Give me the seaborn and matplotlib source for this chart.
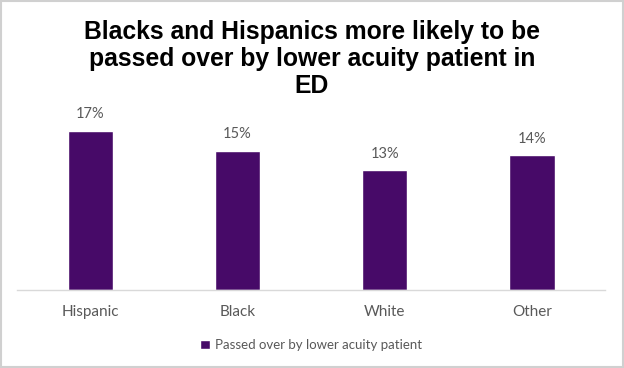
import pandas as pd
import matplotlib.pyplot as plt
import seaborn as sns

# Data
groups = ["Hispanic", "Black", "White", "Other"]
values = [0.170, 0.149, 0.128, 0.144]
series_name = "Passed over by lower acuity patient"
title = "Blacks and Hispanics more likely to be\npassed over by lower acuity patient in\nED"

bar_color = "#470A68"
text_gray = "#595959"

df = pd.DataFrame({"Group": groups, "Value": values, "Series": series_name})

sns.set_theme(style="white")
plt.rcParams["font.family"] = ["Lato", "DejaVu Sans"]

fig = plt.figure(figsize=(6.24, 3.68), dpi=100)
ax = fig.add_axes([0.0272, 0.212, 0.9428, 0.508])

sns.barplot(data=df, x="Group", y="Value", hue="Series", palette=[bar_color],
            width=0.31, ax=ax, saturation=1)

ax.set_ylim(0, 0.2)
ax.set_xlim(-0.5, len(groups) - 0.5)

# value labels
for p, v in zip(ax.patches, values):
    ax.annotate(f"{v:.0%}", (p.get_x() + p.get_width() / 2, p.get_height()),
                xytext=(0, 7), textcoords="offset points", ha="center", va="bottom",
                fontsize=10.5, color=text_gray)

ax.set_xlabel("")
ax.set_ylabel("")
ax.set_yticks([])
ax.tick_params(axis="x", length=0, pad=11, labelsize=11, labelcolor=text_gray)
for side in ["left", "right", "top"]:
    ax.spines[side].set_visible(False)
ax.spines["bottom"].set_color("#D9D9D9")
ax.spines["bottom"].set_linewidth(1)

leg = ax.legend(loc="center", bbox_to_anchor=(0.5, -0.295), frameon=False,
                fontsize=9.5, handlelength=0.7, handleheight=0.7, handletextpad=0.4)
for t in leg.get_texts():
    t.set_color(text_gray)

fig.text(0.5, 0.946, title, ha="center", va="top", fontsize=17.8, fontweight="bold",
         family="Liberation Sans", color="black", linespacing=1.17)

# chart border
fig.patches.append(plt.Rectangle((0.002, 0.003), 0.996, 0.994, transform=fig.transFigure,
                                 fill=False, edgecolor="#D0D0D0", linewidth=1.5))

fig.savefig("out.png", dpi=100)
